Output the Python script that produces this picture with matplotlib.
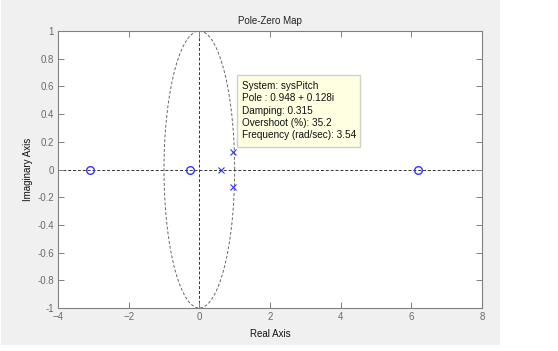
import numpy as np
import matplotlib
matplotlib.use("Agg")
import matplotlib.pyplot as plt
from matplotlib.patches import Rectangle

# Data
pole_re = [0.62, 0.948, 0.948]
pole_im = [0.0, 0.128, -0.128]
zero_re = [-3.1, -0.27, 6.2]
zero_im = [0.0, 0.0, 0.0]
xticks = [-4, -2, 0, 2, 4, 6, 8]
yticks = [-1, -0.8, -0.6, -0.4, -0.2, 0, 0.2, 0.4, 0.6, 0.8, 1]
ytick_labels = ["-1", "-0.8", "-0.6", "-0.4", "-0.2", "0", "0.2", "0.4", "0.6", "0.8", "1"]
tip_lines = ["System: sysPitch", "Pole : 0.948 + 0.128i", "Damping: 0.315",
             "Overshoot (%): 35.2", "Frequency (rad/sec): 3.54"]

plt.rcParams['font.family'] = ['Liberation Sans', 'DejaVu Sans']

W, H = 558, 351
fig = plt.figure(figsize=(W / 100, H / 100), dpi=100, facecolor='white')
fig.patches.append(Rectangle((1 / W, 1 - 345 / H), 499 / W, 345 / H,
                             transform=fig.transFigure, facecolor='#F0F0F0',
                             edgecolor='none', zorder=-10))

L, T, R, B = 58, 31, 482, 308
ax = fig.add_axes([L / W, 1 - B / H, (R - L) / W, (B - T) / H])
ax.set_facecolor('white')

ax.set_xlim(-4, 8)
ax.set_ylim(-1, 1)

# unit circle and axes lines
th = np.linspace(0, 2 * np.pi, 400)
ax.plot(np.cos(th), np.sin(th), ls=(0, (3, 2)), color='#666666', lw=0.7, zorder=1)
ax.axhline(0, ls=(0, (3, 2)), color='#333333', lw=0.7, zorder=1)
ax.axvline(0, ls=(0, (3, 2)), color='#333333', lw=0.7, zorder=1)

blue = '#3030FF'
ax.plot(zero_re, zero_im, 'o', mfc='none', mec=blue, ms=5.5, mew=1.0, zorder=3)
ax.plot(pole_re, pole_im, 'x', color=blue, ms=5, mew=0.8, zorder=3)

ax.set_xticks(xticks)
ax.set_yticks(yticks)
ax.set_yticklabels(ytick_labels)
ax.tick_params(direction='in', length=4, width=0.7, colors='#808080',
               labelsize=7, labelcolor='#6a6a6a', top=True, right=True, pad=3)
for s in ax.spines.values():
    s.set_color('#808080')
    s.set_linewidth(0.8)

ax.set_title('Pole-Zero Map', fontsize=7, color='#222222', pad=5)
ax.set_xlabel('Real Axis', fontsize=7, color='#111111', labelpad=5)
ax.set_ylabel('Imaginary Axis', fontsize=7, color='#111111', labelpad=3)

# data tip
bx0, by0, bx1, by1 = 237, 75, 360, 147
ax.add_patch(Rectangle(((bx0 - L) / (R - L), (B - by1) / (B - T)),
                       (bx1 - bx0) / (R - L), (by1 - by0) / (B - T),
                       transform=ax.transAxes, facecolor='#FFFFE1',
                       edgecolor='#D0D0D0', lw=1.0, zorder=5))
for i, line in enumerate(tip_lines):
    y = 86 + i * 12.3
    ax.text((242 - L) / (R - L), (B - y) / (B - T), line, transform=ax.transAxes,
            fontsize=7.2, color='#111111', va='center', ha='left', zorder=6)

fig.savefig('out.png', dpi=100, facecolor=fig.get_facecolor())
